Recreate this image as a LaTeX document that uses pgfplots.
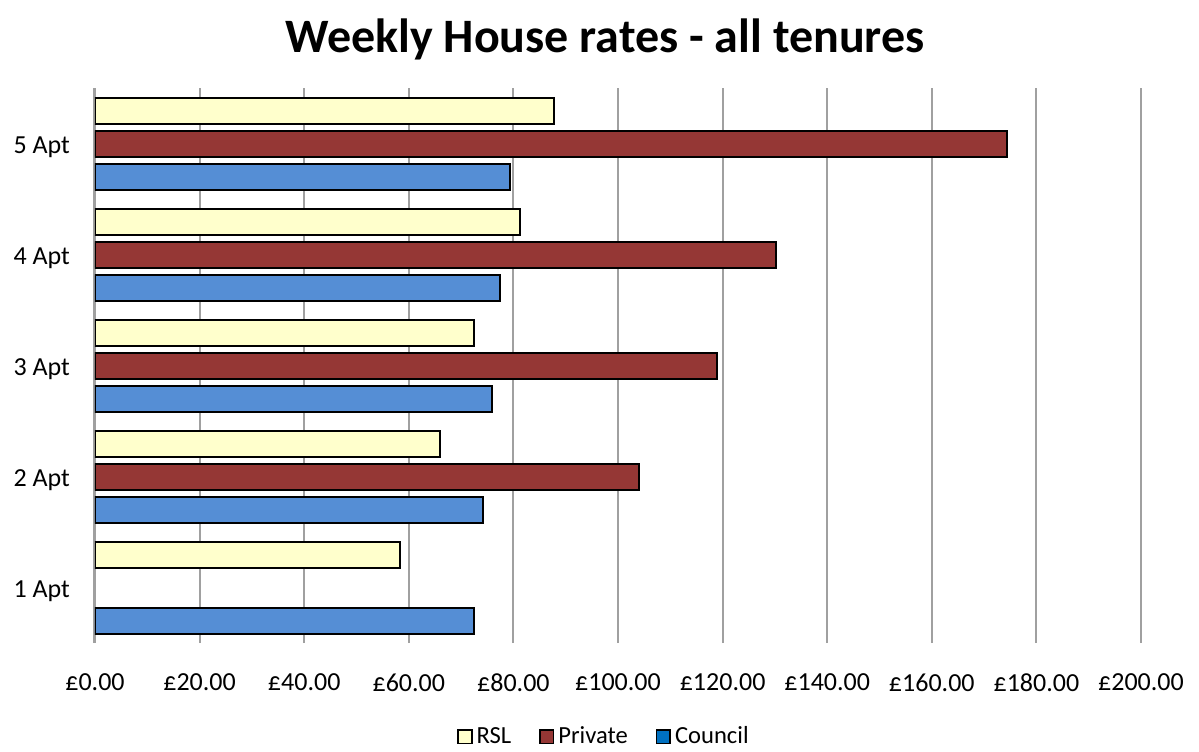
\documentclass[border=0pt]{standalone}
\usepackage{pgfplots}
\pgfplotsset{compat=1.18}
\usepackage{fontspec}
\setmainfont{Carlito}
\definecolor{rsl}{HTML}{FFFFCC}
\definecolor{priv}{HTML}{953735}
\definecolor{counc}{HTML}{558ED5}
\definecolor{councleg}{HTML}{0070C0}
\definecolor{gridc}{HTML}{A0A0A0}
\begin{document}
\begin{tikzpicture}
\begin{axis}[
  at={(0,0)}, anchor=south west,
  scale only axis,
  width=523pt, height=277.5pt,
  xbar,
  xmin=0, xmax=200,
  ymin=0.5, ymax=5.5,
  xtick={0,20,...,200},
  xticklabels={£0.00,£20.00,£40.00,£60.00,£80.00,£100.00,£120.00,£140.00,£160.00,£180.00,£200.00},
  ytick={1,2,3,4,5},
  yticklabels={1 Apt,2 Apt,3 Apt,4 Apt,5 Apt},
  major tick length=0pt,
  xmajorgrids,
  grid style={draw=gridc, line width=1pt},
  axis lines*=left,
  x axis line style={draw=none},
  y axis line style={-, draw=gridc, line width=1.5pt},
  tick label style={font=\fontsize{13}{15}\selectfont},
  xticklabel style={yshift=-12pt},
  yticklabel style={xshift=-9pt, yshift=-2pt},
  bar width=13pt,
  legend style={at={(0.4876,-0.169)}, anchor=center, draw=none,
    legend columns=3, font=\fontsize{12.3}{14}\selectfont,
    /tikz/every even column/.append style={column sep=12pt}},
  legend cell align=left,
]
\addplot[fill=rsl, draw=black, line width=1pt, bar shift=16.5pt,
  legend image code/.code={\draw[fill=rsl, draw=black, line width=0.8pt] (0pt,-3.4pt) rectangle (6.8pt,3.4pt);}]
  coordinates {(58.4,1) (66.0,2) (72.5,3) (81.3,4) (87.8,5)};
\addlegendentry{RSL}
\addplot[fill=priv, draw=black, line width=1pt, bar shift=0pt,
  legend image code/.code={\draw[fill=priv, draw=black, line width=0.8pt] (0pt,-3.4pt) rectangle (6.8pt,3.4pt);}]
  coordinates {(104.0,2) (119.0,3) (130.2,4) (174.4,5)};
\addlegendentry{Private}
\addplot[fill=counc, draw=black, line width=1pt, bar shift=-16.5pt,
  legend image code/.code={\draw[fill=councleg, draw=black, line width=0.8pt] (0pt,-3.4pt) rectangle (6.8pt,3.4pt);}]
  coordinates {(72.5,1) (74.1,2) (76.0,3) (77.4,4) (79.3,5)};
\addlegendentry{Council}
\end{axis}
\node[font=\bfseries\fontsize{24}{28}\selectfont] at (255pt,302pt) {Weekly House rates - all tenures};
\pgfresetboundingbox
\path (-47.5pt,-54pt) rectangle (552pt,321.5pt);
\end{tikzpicture}
\end{document}
